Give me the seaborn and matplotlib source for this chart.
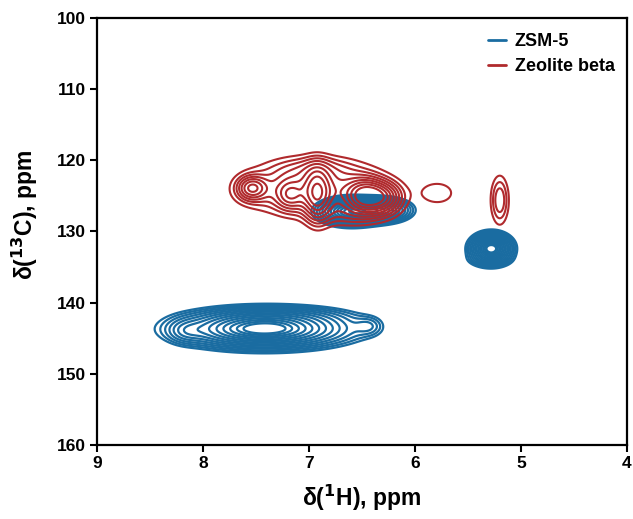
import numpy as np
import matplotlib
matplotlib.use("Agg")
import matplotlib.pyplot as plt
import seaborn as sns
from matplotlib.lines import Line2D

# ---- data: 2D peaks (1H shift, 13C shift, widths, amplitude) ----
series = ["ZSM-5", "Zeolite beta"]
colors = ["#1a6ca1", "#b02a2d"]

zsm_h = [7.42, 8.16, 6.44, 7.30, 6.60, 6.30, 5.28, 5.30]
zsm_c = [143.7, 144.0, 143.3, 141.9, 127.2, 127.0, 132.4, 134.0]
zsm_wh = [0.42, 0.10, 0.08, 0.40, 0.16, 0.14, 0.10, 0.12]
zsm_wc = [1.40, 1.00, 0.80, 0.80, 1.00, 0.90, 1.10, 0.60]
zsm_amp = [1.00, 0.12, 0.10, 0.12, 0.80, 0.55, 1.00, 0.10]

beta_h = [7.54, 7.18, 6.92, 6.46, 6.28, 6.95, 6.95, 6.60, 5.78, 5.20]
beta_c = [123.9, 124.9, 124.8, 125.0, 125.3, 124.2, 121.0, 127.8, 124.6, 125.6]
beta_wh = [0.09, 0.08, 0.08, 0.12, 0.11, 0.42, 0.30, 0.25, 0.14, 0.06]
beta_wc = [1.1, 1.3, 2.6, 1.5, 1.4, 2.3, 1.3, 1.2, 1.4, 2.4]
beta_amp = [0.45, 0.25, 0.45, 0.75, 0.40, 0.42, 0.15, 0.12, 0.14, 0.28]

h_ticks = [9, 8, 7, 6, 5, 4]
c_ticks = [100, 110, 120, 130, 140, 150, 160]


def spectrum(H, C, hs, cs, whs, wcs, amps):
    z = np.zeros_like(H)
    for h, c, wh, wc, a in zip(hs, cs, whs, wcs, amps):
        z += a * np.exp(-0.5 * (((H - h) / wh) ** 2 + ((C - c) / wc) ** 2))
    return z


sns.set_theme(style="ticks")
plt.rcParams["font.family"] = ["Liberation Sans", "DejaVu Sans"]
plt.rcParams["font.weight"] = "bold"
for k in ["text.color", "axes.labelcolor", "xtick.color", "ytick.color", "axes.edgecolor"]:
    plt.rcParams[k] = "black"

fig = plt.figure(figsize=(6.33, 5.19), dpi=100)
ax = fig.add_axes([0.153, 0.1426, 0.8375, 0.8227])

h = np.linspace(4, 9, 900)
c = np.linspace(100, 160, 1100)
H, C = np.meshgrid(h, c)

z1 = spectrum(H, C, zsm_h, zsm_c, zsm_wh, zsm_wc, zsm_amp)
z2 = spectrum(H, C, beta_h, beta_c, beta_wh, beta_wc, beta_amp)

r = np.linspace(0.45, 2.45, 14)
lev1 = np.sort(np.exp(-0.5 * r ** 2))
lev2 = np.array([0.10, 0.16, 0.22, 0.29, 0.37, 0.46, 0.56, 0.67, 0.80])

ax.contour(H, C, z1, levels=lev1, colors=colors[0], linewidths=1.6)
ax.contour(H, C, z2, levels=lev2, colors=colors[1], linewidths=1.5)

ax.set_xlim(9, 4)
ax.set_ylim(160, 100)
ax.set_xticks(h_ticks)
ax.set_yticks(c_ticks)
ax.set_xticklabels([str(t) for t in h_ticks], fontsize=12.5, fontweight="bold")
ax.set_yticklabels([str(t) for t in c_ticks], fontsize=12.5, fontweight="bold")
ax.tick_params(direction="out", length=5, width=1.5, color="black", pad=3)
for s in ax.spines.values():
    s.set_linewidth(1.6)
    s.set_color("black")

ax.set_xlabel(r"δ($^{1}$H), ppm", fontsize=16.5, fontweight="bold")
ax.set_ylabel(r"δ($^{13}$C), ppm", fontsize=16.5, fontweight="bold")
ax.xaxis.set_label_coords(0.5, -0.088)
ax.yaxis.set_label_coords(-0.108, 0.54)

handles = [Line2D([0], [0], color=col, lw=2) for col in colors]
ax.legend(handles, series, loc="upper right", frameon=False, handlelength=1.0,
          handletextpad=0.5, labelspacing=0.45,
          prop={"weight": "bold", "size": 13}, bbox_to_anchor=(1.008, 1.003))

fig.savefig("out.png", dpi=100)
